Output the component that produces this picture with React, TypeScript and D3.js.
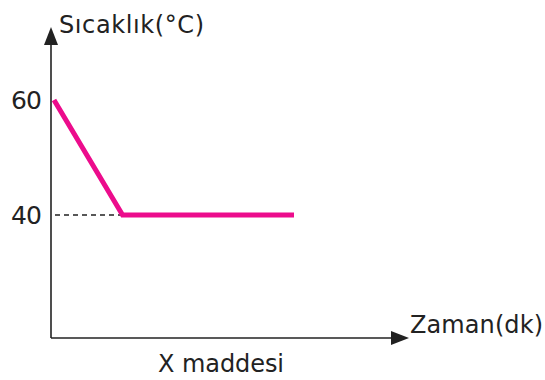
import React from "react";
import * as d3 from "d3";

// Cooling curve of substance X: temperature (°C) vs time (dk)
const times = [0, 2, 7];
const temps = [60, 40, 40];
const yTicks = [60, 40];
const yTitle = "Sıcaklık(°C)";
const xTitle = "Zaman(dk)";
const caption = "X maddesi";

const W = 545;
const H = 380;
const originX = 51;
const originY = 338;
const font = "'DejaVu Sans', 'Open Sans', sans-serif";

export default function App() {
  const x = d3.scaleLinear().domain([0, 7]).range([54, 294]);
  const y = d3.scaleLinear().domain([40, 60]).range([215, 100]);

  const line = d3
    .line<number>()
    .x((_, i) => x(times[i]))
    .y((d) => y(d));

  const plateauY = y(temps[1]);
  const plateauX = x(times[1]);

  return (
    <svg
      width={W}
      height={H}
      style={{ position: "absolute", left: 0, top: 0, background: "#fff" }}
      fontFamily={font}
    >
      {/* axes */}
      <line x1={originX} y1={originY} x2={originX} y2={40} stroke="#222" strokeWidth={1.6} />
      <path d={`M${originX},27 L${originX - 7},45 L${originX + 7},45 Z`} fill="#222" />
      <line x1={originX} y1={originY} x2={396} y2={originY} stroke="#222" strokeWidth={1.6} />
      <path d={`M409,${originY} L391,${originY - 7} L391,${originY + 7} Z`} fill="#222" />

      {/* guide to the plateau temperature */}
      <line
        x1={originX + 4}
        y1={plateauY}
        x2={plateauX}
        y2={plateauY}
        stroke="#222"
        strokeWidth={1.3}
        strokeDasharray="5,4"
      />

      {/* curve */}
      <path
        d={line(temps) || ""}
        fill="none"
        stroke="#ec0c8c"
        strokeWidth={5}
        strokeLinejoin="miter"
      />

      {/* tick labels */}
      {yTicks.map((t) => (
        <text key={t} x={42} y={y(t) + 9} fontSize={25} textAnchor="end" fill="#222" textLength={31} lengthAdjust="spacing">
          {t}
        </text>
      ))}

      {/* titles */}
      <text x={59} y={33} fontSize={24} fill="#222" textLength={145} lengthAdjust="spacing">{yTitle}</text>
      <text x={410} y={333} fontSize={24} fill="#222" textLength={133} lengthAdjust="spacing">{xTitle}</text>
      <text x={158} y={372} fontSize={24} fill="#222" textLength={126} lengthAdjust="spacing">{caption}</text>
    </svg>
  );
}
